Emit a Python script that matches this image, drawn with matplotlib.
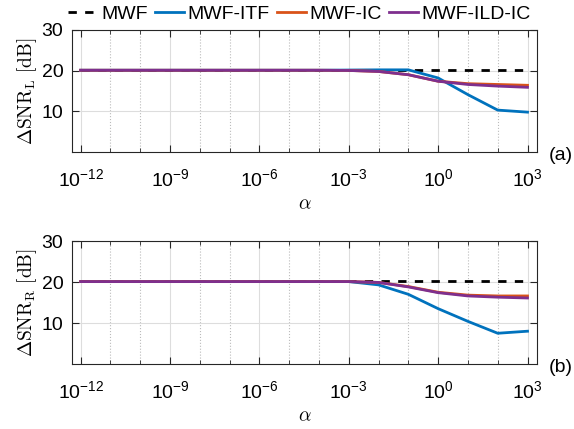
import numpy as np
import matplotlib
matplotlib.use('Agg')
import matplotlib.pyplot as plt
from matplotlib.ticker import FixedLocator, NullFormatter

plt.rcParams['font.family'] = ['Liberation Sans', 'DejaVu Sans']
plt.rcParams['mathtext.fontset'] = 'cm'
plt.rcParams['axes.unicode_minus'] = False

# regularisation exponents: alpha = 10^k
alpha_exp = [-12, -11, -10, -9, -8, -7, -6, -5, -4, -3, -2, -1, 0, 1, 2, 3]

mwf = [20.2] * 16

itf_left = [20.1, 20.1, 20.1, 20.1, 20.1, 20.1, 20.1, 20.1, 20.1, 20.15, 20.2, 20.2, 18.2, 14.1, 10.3, 9.8]
ic_left = [20.1, 20.1, 20.1, 20.1, 20.1, 20.1, 20.1, 20.1, 20.1, 20.05, 19.8, 19.0, 17.4, 16.8, 16.6, 16.4]
ildic_left = [20.1, 20.1, 20.1, 20.1, 20.1, 20.1, 20.1, 20.1, 20.1, 20.05, 19.8, 19.0, 17.4, 16.6, 16.2, 15.9]

itf_right = [20.1, 20.1, 20.1, 20.1, 20.1, 20.1, 20.1, 20.1, 20.1, 20.1, 19.3, 17.0, 13.5, 10.4, 7.5, 8.0]
ic_right = [20.1, 20.1, 20.1, 20.1, 20.1, 20.1, 20.1, 20.1, 20.1, 20.1, 19.9, 18.9, 17.5, 16.8, 16.6, 16.6]
ildic_right = [20.1, 20.1, 20.1, 20.1, 20.1, 20.1, 20.1, 20.1, 20.1, 20.1, 19.9, 18.8, 17.4, 16.6, 16.3, 16.1]

labels = ['MWF', 'MWF-ITF', 'MWF-IC', 'MWF-ILD-IC']
colors = ['k', '#0072BD', '#D95319', '#7E2F8E']

alpha = 10.0 ** np.array(alpha_exp)

fig = plt.figure(figsize=(5.74, 4.29), dpi=100)
ax1 = fig.add_axes([0.125, 0.6457, 0.8106, 0.2844])
ax2 = fig.add_axes([0.125, 0.1515, 0.8106, 0.2867])

FS = 14


def draw(ax, series, sub, tag):
    lines = []
    for i, (y, c) in enumerate(zip(series, colors)):
        if i == 0:
            l, = ax.plot(alpha, y, color=c, lw=2, dashes=(3, 3), label=labels[i])
        else:
            l, = ax.plot(alpha, y, color=c, lw=2, label=labels[i])
        lines.append(l)
    ax.set_xscale('log')
    ax.set_xlim(10 ** -12.3, 10 ** 3.32)
    ax.set_ylim(0, 30)
    ax.set_yticks([10, 20, 30])
    ax.xaxis.set_major_locator(FixedLocator(10.0 ** np.arange(-12, 4, 3)))
    ax.xaxis.set_minor_locator(FixedLocator(10.0 ** np.arange(-12, 4)))
    ax.xaxis.set_minor_formatter(NullFormatter())
    ax.grid(True, which='major', color='#dddddd', lw=0.8, ls='-')
    ax.grid(True, which='minor', axis='x', color='#bbbbbb', lw=0.8, ls=':')
    ax.set_axisbelow(True)
    ax.tick_params(which='both', direction='in', top=True, right=True,
                   labelsize=FS, color='#262626')
    ax.tick_params(which='major', length=5, width=0.8)
    ax.tick_params(which='minor', length=3, width=0.6)
    ax.tick_params(axis='x', pad=12)
    ax.tick_params(axis='y', pad=6)
    for s in ax.spines.values():
        s.set_color('#262626')
        s.set_linewidth(0.8)
    ax.set_ylabel(r'$\Delta\mathrm{SNR}_\mathrm{%s}\ [\mathrm{dB}]$' % sub, fontsize=FS, labelpad=2)
    ax.set_xlabel(r'$\alpha$', fontsize=FS, labelpad=4)
    ax.text(1.025, -0.025, tag, transform=ax.transAxes, fontsize=FS, va='center', ha='left')
    return lines


lines = draw(ax1, [mwf, itf_left, ic_left, ildic_left], 'L', '(a)')
draw(ax2, [mwf, itf_right, ic_right, ildic_right], 'R', '(b)')

fig.legend(lines, labels, loc='center', bbox_to_anchor=(0.522, 0.967), ncol=4,
           frameon=False, fontsize=FS, handlelength=1.5, handletextpad=0.2,
           columnspacing=0.35, borderpad=0)

fig.savefig('out.png', dpi=100)
